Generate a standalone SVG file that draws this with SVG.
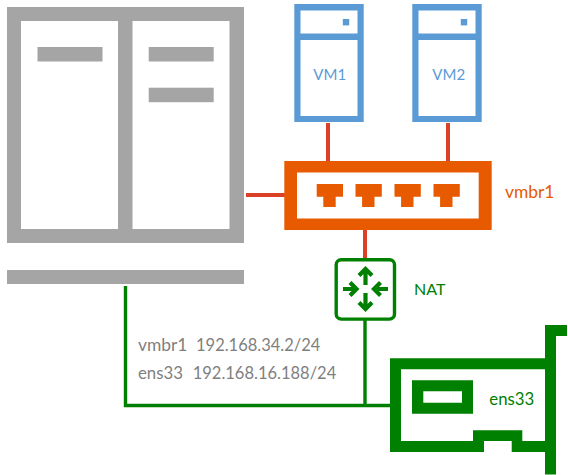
<svg xmlns="http://www.w3.org/2000/svg" width="568" height="475" viewBox="0 0 568 475">
<style>
text{font-family:"Lato","Noto Sans",sans-serif;font-size:16.5px}
.gray{fill:#a5a5a5}.blue{fill:#5b9bd5}.orange{fill:#e85a00}.green{fill:#008000}.white{fill:#fff}
.red{stroke:#da4126;stroke-width:4;fill:none}
.gl{stroke:#008000;stroke-width:3.4;fill:none}
.arrow{stroke:#008000;stroke-width:4.2;fill:none}
</style>
<defs>
<g id="port"><path d="M0 0H26.300V12.700H19V23H6.600V12.700H0Z" class="orange"/></g>
<g id="vm">
<rect width="69.400" height="118" class="blue"/>
<rect x="6.200" y="6.500" width="57" height="23" class="white"/>
<rect x="6.200" y="36" width="57" height="76" class="white"/>
<rect x="48.500" y="15" width="6.400" height="6.400" class="blue"/>
</g>
</defs>
<rect width="568" height="475" fill="#fff"/>
<g id="connectors">
<path class="red" d="M328 123V164M448 123V164M246 195H286M365 229V259"/>
<path class="gl" d="M125.500 286V405.500H391M365 320V405.500"/>
</g>
<g id="server">
<rect x="7" y="7" width="237" height="236" class="gray"/>
<rect x="21" y="21" width="97" height="208" class="white"/>
<rect x="132.500" y="21" width="97" height="208" class="white"/>
<rect x="37.500" y="47" width="65" height="14.500" class="gray"/>
<rect x="148.700" y="47" width="65" height="14.500" class="gray"/>
<rect x="148.700" y="87.700" width="65" height="14.500" class="gray"/>
<rect x="7" y="270" width="237" height="14" class="gray"/>
</g>
<g id="vm1"><use href="#vm" x="294.300" y="4"/><text x="313.300" y="80" fill="#5b9bd5" style="font-size:15px">VM1</text></g>
<g id="vm2"><use href="#vm" x="412.300" y="4"/><text x="432.300" y="80" fill="#5b9bd5" style="font-size:15px">VM2</text></g>
<g id="vmbr1">
<rect x="284.300" y="161" width="207.400" height="69" class="orange"/>
<rect x="297" y="172.500" width="181.700" height="46" class="white"/>
<use href="#port" x="316.700" y="184"/><use href="#port" x="355.500" y="184"/><use href="#port" x="394.500" y="184"/><use href="#port" x="433.500" y="184"/>
<text x="505" y="198" fill="#e85a00" style="font-size:17.400px">vmbr1</text>
</g>
<g id="nat">
<rect x="336.200" y="259.800" width="58.300" height="59.300" rx="5" fill="#fff" stroke="#008000" stroke-width="3.400"/>
<path class="arrow" d="M365.500 285V269M359 275.500L365.500 269L372 275.500M365.500 293V309M359 302.500L365.500 309L372 302.500M343 289H356M350 282.500L356.500 289L350 295.500M388 289H374M380.500 282.500L374 289L380.500 295.500"/>
<text x="414" y="295" fill="#008000" style="font-size:16px">NAT</text>
</g>
<g id="ens33">
<path class="green" fill-rule="evenodd" d="M390 358.300H545V325H567V336H556V474.500H545V452H511.700V441H484V452H390ZM401 369.300V441H473V430.300H522.300V441H545V369.300Z"/>
<path class="green" fill-rule="evenodd" d="M412 380.300H473V413.700H412ZM423.300 391.300V402.700H462V391.300Z"/>
<text x="489.300" y="405" fill="#008000" style="font-size:16.800px">ens33</text>
</g>
<g id="addresses" fill="#7f7f7f">
<text x="138" y="351"><tspan style="font-size:17.400px">vmbr1</tspan><tspan x="196">192.168.34.2/24</tspan></text>
<text x="138" y="379"><tspan style="font-size:16.800px">ens33</tspan><tspan x="192.700">192.168.16.188/24</tspan></text>
</g>
</svg>
